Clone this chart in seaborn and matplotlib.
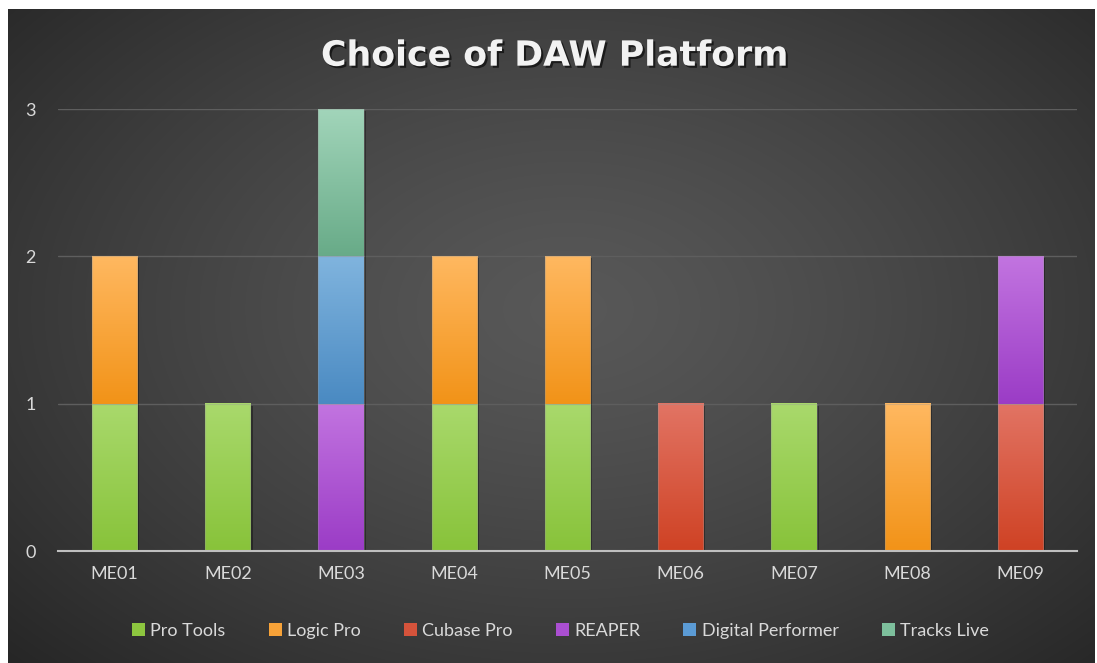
import numpy as np
import pandas as pd
import matplotlib
matplotlib.use("Agg")
import matplotlib.pyplot as plt
import matplotlib.patheffects as pe
from matplotlib.colors import to_rgb
from matplotlib.patches import Patch
import seaborn as sns

# ---------------- DATA ----------------
categories = ["ME01", "ME02", "ME03", "ME04", "ME05", "ME06", "ME07", "ME08", "ME09"]
pro_tools = [1, 1, 0, 1, 1, 0, 1, 0, 0]
logic_pro = [1, 0, 0, 1, 1, 0, 0, 1, 0]
cubase_pro = [0, 0, 0, 0, 0, 1, 0, 0, 1]
reaper = [0, 0, 1, 0, 0, 0, 0, 0, 1]
digital_performer = [0, 0, 1, 0, 0, 0, 0, 0, 0]
tracks_live = [0, 0, 1, 0, 0, 0, 0, 0, 0]

series_names = ["Pro Tools", "Logic Pro", "Cubase Pro", "REAPER", "Digital Performer", "Tracks Live"]
series_values = [pro_tools, logic_pro, cubase_pro, reaper, digital_performer, tracks_live]

# gradient colours (top, bottom) and legend colour
top_colors = ["#a9d96c", "#ffb860", "#e27464", "#c274e0", "#80b4de", "#a2d5ba"]
bottom_colors = ["#88c33a", "#f29318", "#cf4224", "#9b3cc6", "#4a8ac2", "#68ab88"]
legend_colors = ["#8dc63f", "#f7a238", "#d5533b", "#ab4fd2", "#5b9bd5", "#7dbf9c"]

df = pd.DataFrame(dict(zip(series_names, series_values)), index=categories)
bottoms = df.cumsum(axis=1) - df

# ---------------- STYLE ----------------
sns.set_theme(style="dark")
plt.rcParams["font.family"] = ["Lato", "DejaVu Sans"]
text_col = "#d9d9d9"

fig = plt.figure(figsize=(10.97, 6.63), dpi=100)
fig.patch.set_facecolor("white")

# radial background
bg = fig.add_axes([8 / 1097, 0, 1087 / 1097, 654 / 663], zorder=-1)
H, W = 654, 1087
yy, xx = np.mgrid[0:H, 0:W]
r = np.sqrt(((xx - 560) / 640.0) ** 2 + ((yy - 300) / 420.0) ** 2)
g = 0x58 - (0x58 - 0x24) * np.clip(r / 1.25, 0, 1) ** 1.3
bg.imshow(np.dstack([g, g, g]) / 255.0, aspect="auto", interpolation="bilinear")
bg.set_axis_off()

ax = fig.add_axes([58 / 1097, (663 - 551) / 663, (1077 - 58) / 1097, (551 - 109) / 663])
ax.set_facecolor("none")

# ---------------- STACKED BARS ----------------
groups = []
for i, name in enumerate(series_names):
    n_before = len(ax.patches)
    sns.barplot(x=categories, y=df[name].values, bottom=bottoms[name].values,
                color=legend_colors[i], width=0.4, linewidth=0, ax=ax, zorder=2)
    groups.append((i, ax.patches[n_before:]))

for i, patches in groups:
    c_top = np.array(to_rgb(top_colors[i]))
    c_bot = np.array(to_rgb(bottom_colors[i]))
    t = np.linspace(0, 1, 100)[:, None]
    grad = (c_top * (1 - t) + c_bot * t)[:, None, :]
    for p in patches:
        h = p.get_height()
        if h <= 0:
            p.set_visible(False)
            continue
        x0, y0, w = p.get_x(), p.get_y(), p.get_width()
        p.set_path_effects([pe.SimplePatchShadow(offset=(1.5, -1.5), shadow_rgbFace="black", alpha=0.35), pe.Normal()])
        ax.imshow(grad, extent=[x0, x0 + w, y0, y0 + h], aspect="auto", zorder=3,
                  interpolation="bilinear", origin="upper")
        ax.add_patch(plt.Rectangle((x0, y0), w, h, fill=False, edgecolor=(0.6, 0.6, 0.6, 0.35),
                                   linewidth=0.8, zorder=4))

ax.set_xlim(-0.5, len(categories) - 0.5)
ax.set_ylim(0, 3)
ax.set_yticks([0, 1, 2, 3])
ax.yaxis.grid(True, color="#5e5e5e", linewidth=1)
ax.set_axisbelow(True)
for s in ["top", "right", "left"]:
    ax.spines[s].set_visible(False)
ax.spines["bottom"].set_color("#bfbfbf")
ax.spines["bottom"].set_linewidth(1.5)
ax.spines["bottom"].set_zorder(5)
ax.tick_params(axis="y", length=0, pad=16, labelsize=13, labelcolor=text_col)
ax.tick_params(axis="x", length=0, pad=11, labelsize=13, labelcolor=text_col)
ax.set_xlabel("")
ax.set_ylabel("")

fig.text(0.506, 0.916, "Choice of DAW Platform", ha="center", va="center", fontsize=25,
         fontweight="bold", color="#f2f2f2", family="DejaVu Sans",
         path_effects=[pe.withSimplePatchShadow(offset=(1.5, -1.5), shadow_rgbFace="black", alpha=0.6)])

handles = [Patch(facecolor=legend_colors[i], edgecolor="none") for i in range(len(series_names))]
fig.legend(handles, series_names, loc="center", bbox_to_anchor=(0.511, 0.049), ncol=6,
           frameon=False, fontsize=13, labelcolor=text_col, handlelength=0.7, handleheight=0.7,
           handletextpad=0.3, columnspacing=2.4)

fig.savefig("out.png", dpi=100, facecolor=fig.get_facecolor())
